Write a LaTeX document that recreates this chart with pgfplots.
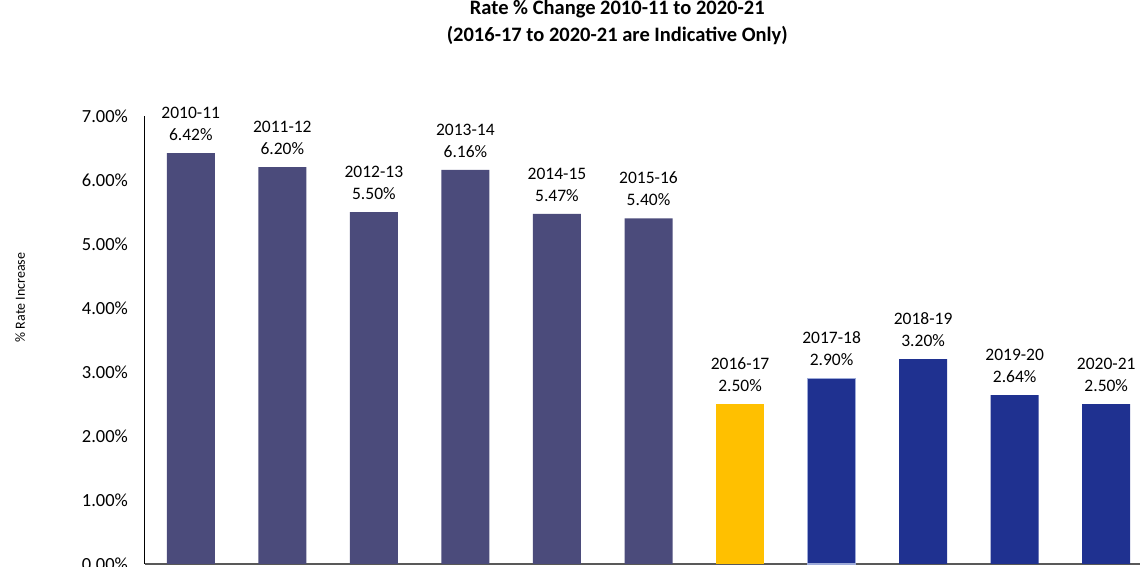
\documentclass[border=0pt]{standalone}
\usepackage{fontspec}
\setmainfont{Carlito}
\usepackage{pgfplots}
\pgfplotsset{compat=1.18}
\usepackage{pgfplotstable}

\definecolor{histbar}{HTML}{4B4B7B}
\definecolor{curbar}{HTML}{FFC000}
\definecolor{indbar}{HTML}{1F3190}
\definecolor{selline}{HTML}{9DAAD8}
\definecolor{axisgray}{HTML}{595959}

\pgfplotstableread{
x y year
0 6.42 2010-11
1 6.20 2011-12
2 5.50 2012-13
3 6.16 2013-14
4 5.47 2014-15
5 5.40 2015-16
}\histdata
\pgfplotstableread{
x y year
6 2.50 2016-17
}\curdata
\pgfplotstableread{
x y year
7 2.90 2017-18
}\seldata
\pgfplotstableread{
x y year
8 3.20 2018-19
9 2.64 2019-20
10 2.50 2020-21
}\inddata

\begin{document}
\begin{tikzpicture}
\begin{axis}[
    scale only axis,
    width=503.5pt,
    height=224pt,
    xmin=-0.5, xmax=10.5,
    ymin=0, ymax=7,
    axis x line*=bottom,
    axis y line*=left,
    x axis line style={draw=axisgray, line width=1pt, -},
    y axis line style={draw=black, line width=0.5pt, -},
    xtick=\empty,
    ytick={0,1,...,7},
    major tick length=0pt,
    /pgf/number format/assume math mode=true,
    yticklabel={\pgfmathprintnumber[fixed,fixed zerofill,precision=2]{\tick}\%},
    yticklabel style={font=\fontsize{9.25}{10}\selectfont, xshift=-5pt},
    ylabel={\% Rate Increase},
    ylabel style={font=\fontsize{7}{8}\selectfont, at={(axis description cs:-0.124,0.595)}, anchor=center, rotate=0},
    title={\textbf{Rate \% Change 2010-11 to 2020-21}\\\textbf{(2016-17 to 2020-21 are Indicative Only)}},
    title style={font=\fontsize{10.25}{13.5}\selectfont, align=center, at={(axis description cs:0.469,1)}, anchor=center, yshift=41pt},
    ybar,
    bar width=24pt,
    bar shift=0pt,
    point meta=explicit symbolic,
    nodes near coords={\pgfplotspointmeta\\\pgfmathprintnumber[fixed,fixed zerofill,precision=2]{\pgfkeysvalueof{/data point/y}}\%},
    every node near coord/.append style={font=\fontsize{8.75}{11}\selectfont, align=center, inner sep=0pt, anchor=south, yshift=6pt, text=black},
    clip=false,
]
\addplot[fill=histbar, draw=none] table[x=x, y=y, meta=year] {\histdata};
\addplot[fill=curbar, draw=none] table[x=x, y=y, meta=year] {\curdata};
\addplot[fill=indbar, draw=selline, line width=0.6pt] table[x=x, y=y, meta=year] {\seldata};
\addplot[fill=indbar, draw=none] table[x=x, y=y, meta=year] {\inddata};
\end{axis}
\pgfresetboundingbox
\path[use as bounding box] (-72.5pt,-1.5pt) rectangle (497.5pt,282pt);
\end{tikzpicture}
\end{document}
